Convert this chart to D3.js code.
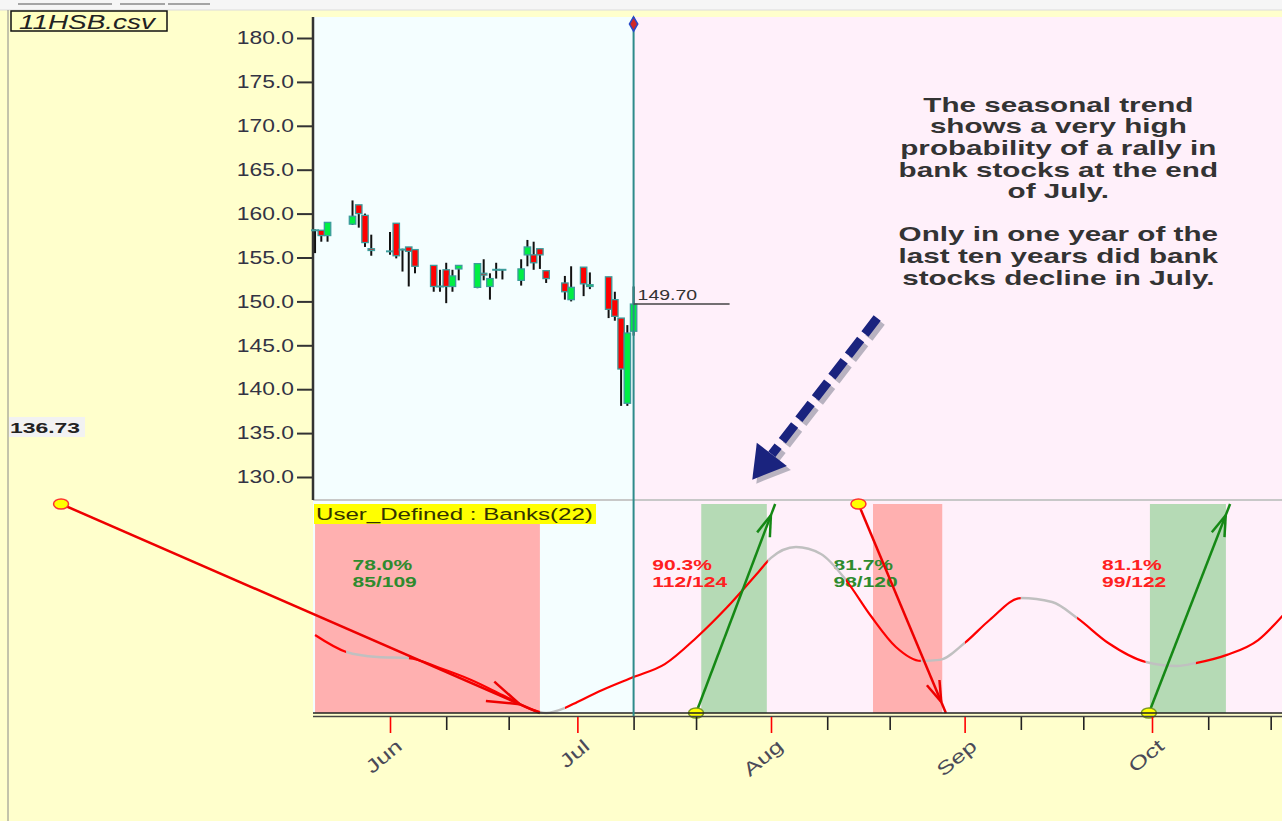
<!doctype html>
<html>
<head>
<meta charset="utf-8">
<title>11HSB.csv</title>
<style>
*{margin:0;padding:0;}
body{background:#ffffcc;overflow:hidden;}
svg{display:block;font-family:"Liberation Sans",Arial,sans-serif;}
</style>
</head>
<body>
<script src="https://d3js.org/d3.v7.min.js"></script>
<script>
// price candles (daily)
var candleDates = ["2009-05-20","2009-05-21","2009-05-22","2009-05-26","2009-05-27","2009-05-28","2009-05-29",
  "2009-06-01","2009-06-02","2009-06-03","2009-06-04","2009-06-05",
  "2009-06-08","2009-06-09","2009-06-10","2009-06-11","2009-06-12",
  "2009-06-15","2009-06-16","2009-06-17","2009-06-18","2009-06-19",
  "2009-06-22","2009-06-23","2009-06-24","2009-06-25","2009-06-26",
  "2009-06-29","2009-06-30","2009-07-02","2009-07-03",
  "2009-07-06","2009-07-07","2009-07-08","2009-07-09","2009-07-10"];
var opens  = [158.1,158.1,157.5,158.8,161.0,159.8,156.0, 155.7,158.9,155.9,156.2,155.9, 154.1,151.7,153.6,151.7,153.7, 151.6,153.2,151.7,153.6,153.6, 152.4,155.3,155.3,156.0,153.5, 152.1,150.2,153.9,151.7, 152.8,150.2,148.1,138.4,146.6];
var highs  = [158.2,158.1,159.0,161.5,161.0,160.0,157.6, 157.9,158.9,156.0,156.2,155.9, 154.1,153.6,154.4,153.6,154.1, 154.3,154.8,153.2,154.4,153.6, 154.8,157.0,156.8,156.0,153.5, 152.9,154.0,153.9,153.3, 152.8,151.1,148.1,147.3,151.7];
var lows   = [155.5,156.8,156.8,158.7,158.4,156.2,155.2, 155.3,154.9,153.4,151.7,153.2, 151.1,151.1,149.8,151.1,152.4, 151.5,152.4,150.2,152.6,152.5, 151.8,154.0,153.6,153.7,152.1, 150.2,150.0,150.6,151.4, 148.1,147.8,138.1,138.1,146.1];
var closes = [158.0,157.5,159.0,159.7,160.0,156.7,155.8, 155.7,155.2,155.9,155.7,154.0, 151.7,151.7,151.7,152.9,154.1, 154.3,153.0,152.6,153.6,153.6, 153.7,156.2,154.4,155.3,152.6, 151.1,151.6,152.0,151.9, 149.1,148.3,142.3,146.4,149.7];

var priceTicks = [130,135,140,145,150,155,160,165,170,175,180];
var monthTicks = ["2009-06-01","2009-07-01","2009-08-01","2009-09-01","2009-10-01"];
var monthLabels = ["Jun","Jul","Aug","Sep","Oct"];
var minorTicks = ["2009-06-10","2009-06-20","2009-07-10","2009-07-20","2009-08-10","2009-08-20","2009-09-10","2009-09-20","2009-10-10","2009-10-20"];

// seasonal pattern (lower panel, 0..100)
var seasonDates = ["2009-05-20","2009-05-25","2009-05-30","2009-06-04","2009-06-09","2009-06-14","2009-06-19","2009-06-24","2009-06-26","2009-06-29",
  "2009-07-01","2009-07-05","2009-07-10","2009-07-15","2009-07-20","2009-07-25","2009-07-30","2009-08-01","2009-08-05","2009-08-09",
  "2009-08-13","2009-08-17","2009-08-21","2009-08-25","2009-08-28","2009-09-01","2009-09-05","2009-09-10","2009-09-15","2009-09-19",
  "2009-09-24","2009-09-30","2009-10-05","2009-10-08","2009-10-13","2009-10-18","2009-10-22"];
var seasonValues = [37.3,29.2,26.8,26.3,21.5,15.8,8.6,1.4,0,2.4,
  5.3,11.0,17.2,23.4,35.9,50.7,67.5,74.2,79.4,76.1,
  63.6,46.4,31.6,24.9,25.4,33.5,44.5,55.0,53.1,45.5,
  33.5,24.4,22.5,23.9,27.8,34.9,46.9];
var flatRanges = [["2009-05-25","2009-06-04"],["2009-06-25","2009-06-29"],["2009-07-31 12","2009-08-13"],["2009-08-25","2009-09-01"],["2009-09-10","2009-09-19"],["2009-09-30","2009-10-08"]];

// seasonal windows
var bandStart = ["2009-05-20","2009-07-20 20","2009-08-17 08","2009-09-30 16"];
var bandEnd   = ["2009-06-25","2009-07-31 08","2009-08-28 10","2009-10-12 20"];
var bandDir   = ["down","up","down","up"];

// trend arrows
var arrowFrom = [["2009-04-09 08",100],["2009-07-20",0],["2009-08-15",100],["2009-09-30 12",0]];
var arrowTo   = [["2009-06-25",0],["2009-08-01 16",100],["2009-08-29",0],["2009-10-13 12",100]];
var arrowDir  = ["down","up","down","up"];

// statistics
var statDates = ["2009-05-26","2009-07-13","2009-08-11","2009-09-23"];
var statPct = ["78.0%","90.3%","81.7%","81.1%"];
var statCount = ["85/109","112/124","98/120","99/122"];
var statDir = ["up","down","up","down"];

var noteLines = ["The seasonal trend","shows a very high","probability of a rally in","bank stocks at the end","of July.","","Only in one year of the","last ten years did bank","stocks decline in July."];
var noteAt = ["2009-09-16", 171.6];
var noteArrow = [["2009-08-18",148.1],["2009-07-29",129.7]];

var parseT = function(s){ return s.length > 10 ? d3.timeParse("%Y-%m-%d %H")(s) : d3.timeParse("%Y-%m-%d")(s); };

var W = 1282, H = 821;
var svg = d3.select("body").append("svg").attr("width", W).attr("height", H);

var x = d3.scaleTime().domain([parseT("2009-06-01"), parseT("2009-10-01")]).range([390, 1152]);
var y = d3.scaleLinear().domain([130, 180]).range([477, 38]);
var y2 = d3.scaleLinear().domain([0, 100]).range([713, 504]);

var plotL = 313, plotR = 1282, plotT = 17, panelB = 500, lowB = 713;
var lastX = x(parseT(candleDates[candleDates.length - 1]));

// the source picture is stretched sideways, text too
function stext(px, py, txt, size, sx){
  return svg.append("text").attr("transform", "translate(" + px + "," + py + ") scale(" + sx + ",1)")
    .attr("font-size", size).text(txt);
}

// background
svg.append("rect").attr("width", W).attr("height", H).attr("fill", "#ffffcc");
svg.append("rect").attr("width", W).attr("height", 10).attr("fill", "#f6f6f6");
[[18,112],[120,165],[168,210]].forEach(function(s){
  svg.append("line").attr("x1", s[0]).attr("x2", s[1]).attr("y1", 4).attr("y2", 4).attr("stroke", "#8a8a8a").attr("stroke-width", 1.5);
});
svg.append("line").attr("x1", 0).attr("x2", W).attr("y1", 10).attr("y2", 10).attr("stroke", "#dcdcdc");
svg.append("line").attr("x1", 8).attr("x2", 8).attr("y1", 10).attr("y2", H).attr("stroke", "#888").attr("stroke-width", 1);

svg.append("rect").attr("x", plotL).attr("y", plotT).attr("width", lastX - plotL).attr("height", lowB - plotT).attr("fill", "#f4feff");
svg.append("rect").attr("x", lastX).attr("y", plotT).attr("width", plotR - lastX).attr("height", lowB - plotT).attr("fill", "#fff0fa");

// bands
svg.selectAll(".band").data(bandStart).enter().append("rect")
  .attr("x", function(d){ return x(parseT(d)); })
  .attr("y", y2(100))
  .attr("width", function(d, i){ return x(parseT(bandEnd[i])) - x(parseT(d)); })
  .attr("height", y2(0) - y2(100))
  .attr("fill", function(d, i){ return bandDir[i] == "up" ? "#b5dab5" : "#ffb0b0"; });

// panel separator
svg.append("line").attr("x1", plotL).attr("x2", plotR).attr("y1", panelB).attr("y2", panelB).attr("stroke", "#c8c8c8").attr("stroke-width", 2);

// label
svg.append("rect").attr("x", 314).attr("y", 504).attr("width", 282).attr("height", 20).attr("fill", "#ffff00");
stext(316, 520, "User_Defined : Banks(22)", 16.5, 1.46).attr("fill", "#333300");

// stats
statDates.forEach(function(d, i){
  var c = statDir[i] == "up" ? "#2e8b2e" : "#ff2020";
  stext(x(parseT(d)), y2(68.4), statPct[i], 14.5, 1.45).attr("font-weight", "bold").attr("fill", c);
  stext(x(parseT(d)), y2(68.4) + 16.5, statCount[i], 14.5, 1.45).attr("font-weight", "bold").attr("fill", c);
});

// seasonal curve: red, grey on the turning stretches
var sd = seasonDates.map(parseT);
var curve = d3.line().x(function(d, i){ return x(d); }).y(function(d, i){ return y2(seasonValues[i]); }).curve(d3.curveMonotoneX);
var defs = svg.append("defs");
var cpFlat = defs.append("clipPath").attr("id", "flat");
var cpMove = defs.append("clipPath").attr("id", "move");
var prev = 0;
flatRanges.forEach(function(r){
  var a = x(parseT(r[0])), b = x(parseT(r[1]));
  cpFlat.append("rect").attr("x", a).attr("width", b - a).attr("y", 0).attr("height", H);
  cpMove.append("rect").attr("x", prev).attr("width", a - prev).attr("y", 0).attr("height", H);
  prev = b;
});
cpMove.append("rect").attr("x", prev).attr("width", W - prev).attr("y", 0).attr("height", H);
svg.append("path").attr("d", curve(sd)).attr("fill", "none").attr("stroke", "#ff0000").attr("stroke-width", 2.2).attr("clip-path", "url(#move)");
svg.append("path").attr("d", curve(sd)).attr("fill", "none").attr("stroke", "#c0c0c0").attr("stroke-width", 2.4).attr("clip-path", "url(#flat)");

// trend arrows
arrowFrom.forEach(function(f, i){
  var t = arrowTo[i];
  var x1 = x(parseT(f[0])), y1 = y2(f[1]), x2 = x(parseT(t[0])), y2_ = y2(t[1]);
  var c = arrowDir[i] == "up" ? "#158815" : "#ee0000";
  svg.append("line").attr("x1", x1).attr("y1", y1).attr("x2", x2).attr("y2", y2_).attr("stroke", c).attr("stroke-width", 2.5);
  var len = Math.hypot(x2 - x1, y2_ - y1), ux = (x2 - x1) / len, uy = (y2_ - y1) / len;
  var back = i == 0 ? 22 : 12, bl = i == 0 ? 34 : 22, a = 18 * Math.PI / 180;
  var tx = x2 - ux * back, ty = y2_ - uy * back;
  [-a, a].forEach(function(an){
    var bx = -ux * Math.cos(an) + uy * Math.sin(an), by = -uy * Math.cos(an) - ux * Math.sin(an);
    svg.append("line").attr("x1", tx).attr("y1", ty).attr("x2", tx + bx * bl).attr("y2", ty + by * bl).attr("stroke", c).attr("stroke-width", 2.5);
  });
  svg.append("ellipse").attr("cx", x1).attr("cy", y1).attr("rx", 7.5).attr("ry", 5)
    .attr("fill", "#ffff00").attr("stroke", arrowDir[i] == "up" ? "#7a9a20" : "#ff3030").attr("stroke-width", 1.5);
});

// y axis
var yAxis = svg.append("g").attr("transform", "translate(" + plotL + ",0)")
  .call(d3.axisLeft(y).tickValues(priceTicks).tickFormat(d3.format(".1f")).tickSize(16).tickPadding(3));
yAxis.select(".domain").remove();
yAxis.selectAll("line").attr("stroke", "#333").attr("stroke-width", 2);
yAxis.selectAll("text").attr("x", 0).attr("transform", "translate(-19,0) scale(1.27,1)")
  .attr("font-size", 18).attr("fill", "#333344").attr("font-family", "Liberation Sans, Arial, sans-serif");
svg.append("line").attr("x1", plotL).attr("x2", plotL).attr("y1", plotT).attr("y2", panelB).attr("stroke", "#333").attr("stroke-width", 2.5);

// x axis
svg.append("line").attr("x1", plotL).attr("x2", plotR).attr("y1", lowB).attr("y2", lowB).attr("stroke", "#222").attr("stroke-width", 1.6);
svg.append("line").attr("x1", plotL).attr("x2", plotR).attr("y1", lowB + 3.5).attr("y2", lowB + 3.5).attr("stroke", "#444").attr("stroke-width", 1.4);
var xMinor = svg.append("g").attr("transform", "translate(0," + (lowB + 4) + ")")
  .call(d3.axisBottom(x).tickValues(minorTicks.map(parseT)).tickSize(13).tickFormat(""));
xMinor.select(".domain").remove();
xMinor.selectAll("line").attr("stroke", "#222").attr("stroke-width", 1.6);
var xMajor = svg.append("g").attr("transform", "translate(0," + (lowB + 4) + ")")
  .call(d3.axisBottom(x).tickValues(monthTicks.map(parseT)).tickSize(16).tickFormat(function(d, i){ return monthLabels[i]; }));
xMajor.select(".domain").remove();
xMajor.selectAll("line").attr("stroke", "#ff0000").attr("stroke-width", 1.6);
xMajor.selectAll("text").attr("x", 0).attr("y", 0).attr("dy", 0)
  .attr("transform", "translate(13,31) rotate(-40) scale(1.38,1)").style("text-anchor", "end")
  .attr("font-size", 18.5).attr("fill", "#4a4a58").attr("font-family", "Liberation Sans, Arial, sans-serif");

// candles
var cd = candleDates.map(parseT);
var candles = svg.append("g");
cd.forEach(function(d, i){
  var cx = x(d);
  candles.append("line").attr("x1", cx).attr("x2", cx).attr("y1", y(highs[i])).attr("y2", y(lows[i])).attr("stroke", "#111").attr("stroke-width", 2);
  var top = y(Math.max(opens[i], closes[i])), bot = y(Math.min(opens[i], closes[i]));
  if (bot - top < 1.5) {
    candles.append("rect").attr("x", cx - 4).attr("y", top - 1).attr("width", 8).attr("height", 2).attr("fill", "#3c9c9c");
  } else {
    candles.append("rect").attr("x", cx - 3.2).attr("y", top).attr("width", 6.4).attr("height", bot - top)
      .attr("fill", closes[i] > opens[i] ? "#00ee44" : "#ff0000").attr("stroke", "#3c9c9c").attr("stroke-width", 1.3);
  }
});

// current bar marker
svg.append("line").attr("x1", lastX).attr("x2", lastX).attr("y1", plotT).attr("y2", lowB + 3).attr("stroke", "#2e8b8b").attr("stroke-width", 2);
var lastC = closes[closes.length - 1];
svg.append("line").attr("x1", lastX).attr("x2", lastX + 96).attr("y1", y(lastC)).attr("y2", y(lastC)).attr("stroke", "#444").attr("stroke-width", 1.4);
stext(lastX + 4, y(lastC) - 4, lastC.toFixed(2), 15, 1.3).attr("fill", "#333");
svg.append("path").attr("d", d3.symbol().type(d3.symbolDiamond).size(60)).attr("transform", "translate(" + lastX + "," + (plotT + 7) + ")")
  .attr("fill", "#d02828").attr("stroke", "#2848c8").attr("stroke-width", 1.5);

// cursor value box
svg.append("rect").attr("x", 9).attr("y", 417).attr("width", 76).attr("height", 20).attr("fill", "#f2f2f2");
stext(10, 433, "136.73", 15.5, 1.48).attr("font-weight", "bold").attr("fill", "#222");

// file label
svg.append("rect").attr("x", 11).attr("y", 11).attr("width", 156).attr("height", 20).attr("fill", "#ffffc0").attr("stroke", "#111").attr("stroke-width", 1.5);
stext(19, 28.5, "11HSB.csv", 21, 1.33).attr("font-style", "italic").attr("fill", "#222");

// note text
var nx = x(parseT(noteAt[0])), ny = y(noteAt[1]);
noteLines.forEach(function(t, i){
  stext(nx, ny + i * 21.6, t, 19.5, 1.52).attr("text-anchor", "middle")
    .attr("font-weight", "bold").attr("fill", "#333");
});

// dashed pointer arrow
var ax1 = x(parseT(noteArrow[0][0])), ay1 = y(noteArrow[0][1]), ax2 = x(parseT(noteArrow[1][0])), ay2 = y(noteArrow[1][1]);
var al = Math.hypot(ax2 - ax1, ay2 - ay1), aux = (ax2 - ax1) / al, auy = (ay2 - ay1) / al;
var hl = 32, hw = 19;
var bx = ax2 - aux * hl, by = ay2 - auy * hl;
function drawPointer(dx, dy, col, op){
  svg.append("line").attr("x1", ax1 + dx).attr("y1", ay1 + dy).attr("x2", bx + dx).attr("y2", by + dy)
    .attr("stroke", col).attr("stroke-width", 9).attr("stroke-dasharray", "20,7").attr("opacity", op);
  svg.append("path").attr("d", "M" + (ax2 + dx) + "," + (ay2 + dy) +
    "L" + (bx - auy * hw + dx) + "," + (by + aux * hw + dy) +
    "L" + (bx + auy * hw + dx) + "," + (by - aux * hw + dy) + "Z").attr("fill", col).attr("opacity", op);
}
drawPointer(4, 4, "#8a8a9a", 0.6);
drawPointer(0, 0, "#1a237e", 1);
</script>
</body>
</html>
